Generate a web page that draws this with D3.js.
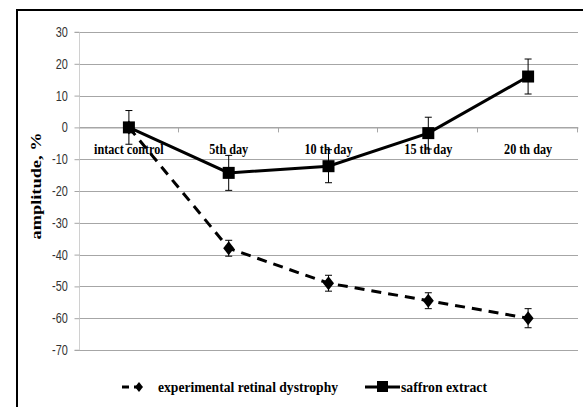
<!DOCTYPE html>
<html><head><meta charset="utf-8">
<script src="https://cdn.jsdelivr.net/npm/d3@7"></script>
<style>body{margin:0;background:#fff}svg{display:block}</style>
</head><body>
<svg id="c" width="583" height="407"></svg>
<script>
const categories = ["intact control","5th day","10 th day","15 th day","20 th day"];
const dystrophy = [0,-38,-49,-54.5,-60];
const dystrophyErr = [0,2.5,2.5,2.5,3];
const saffron = [0,-14.3,-12.2,-1.8,16];
const saffronErr = [5.3,5.5,5.2,5,5.5];
const yTicks = [30,20,10,0,-10,-20,-30,-40,-50,-60,-70];
const seriesNames = ["experimental retinal dystrophy","saffron extract"];

const svg = d3.select("#c");
const L=79,R=578,T=32,B=350;
svg.append("rect").attr("x",17).attr("y",10).attr("width",600).attr("height",500)
  .attr("fill","none").attr("stroke","#000").attr("stroke-width",2);

const x = d3.scaleBand().domain(categories).range([L,R]);
const y = d3.scaleLinear().domain([-70,30]).range([B,T]);
const cx = c => x(c)+x.bandwidth()/2;

// gridlines
svg.append("g").selectAll("line").data(yTicks).join("line")
  .attr("x1",L).attr("x2",R).attr("y1",d=>Math.round(y(d))+0.5).attr("y2",d=>Math.round(y(d))+0.5)
  .attr("stroke","#a6a6a6").attr("stroke-width",1);
// y axis
const ya = svg.append("g").attr("transform",`translate(${L+0.5},0)`)
  .call(d3.axisLeft(y).tickValues(yTicks).tickSize(5).tickPadding(6).tickFormat(d=>String(d)));
ya.select(".domain").attr("stroke","#d0d0d0").attr("d",`M-5,${y(30)}H0V${y(-70)}H-5`);
ya.selectAll(".tick line").attr("stroke","#a6a6a6");
ya.selectAll("text").attr("font-family","'Liberation Sans',sans-serif")
  .attr("font-size",14).attr("fill","#333").attr("x",-15).attr("transform","scale(0.78,1)");
// x axis at zero
const xa = svg.append("g").attr("transform",`translate(0,${Math.round(y(0))+0.5})`)
  .call(d3.axisBottom(x).tickSize(0).tickPadding(16));
xa.select(".domain").attr("stroke","#a6a6a6");
xa.selectAll(".tick text").attr("font-family","'Liberation Serif','Times New Roman',serif")
  .attr("font-weight","bold").attr("font-size",14.5).attr("fill","#000")
  .attr("transform","scale(0.84,1)");
// band boundary ticks
svg.append("g").selectAll("line").data(categories).join("line")
  .attr("x1",(d,i)=>Math.round(L+(i+1)*x.bandwidth())-0.5).attr("x2",(d,i)=>Math.round(L+(i+1)*x.bandwidth())-0.5)
  .attr("y1",y(0)).attr("y2",y(0)+5).attr("stroke","#a6a6a6");

// y title
svg.append("text").attr("transform",`translate(41,186) rotate(-90)`)
  .attr("text-anchor","middle").attr("font-family","'Liberation Serif',serif").attr("font-weight","bold")
  .attr("font-size",14).attr("textLength",107).attr("lengthAdjust","spacingAndGlyphs").text("amplitude,  %");

const line = d3.line().x((d,i)=>cx(categories[i])).y(d=>y(d));
// dystrophy
svg.append("path").datum(dystrophy).attr("d",line).attr("fill","none").attr("stroke","#000")
  .attr("stroke-width",3).attr("stroke-dasharray","10,7");
const eb = (vals,errs)=>{
  const g=svg.append("g");
  vals.forEach((v,i)=>{ if(!errs[i]) return; const X=cx(categories[i]);
    g.append("line").attr("x1",X).attr("x2",X).attr("y1",y(v+errs[i])).attr("y2",y(v-errs[i])).attr("stroke","#000").attr("stroke-width",1);
    [v+errs[i],v-errs[i]].forEach(e=>g.append("line").attr("x1",X-3.5).attr("x2",X+3.5).attr("y1",y(e)).attr("y2",y(e)).attr("stroke","#000").attr("stroke-width",1));
  });
};
eb(dystrophy,dystrophyErr);
svg.append("g").selectAll("path").data(dystrophy).join("path")
  .attr("d","M0,-7L5.5,0L0,7L-5.5,0Z").attr("fill","#000")
  .attr("transform",(d,i)=>`translate(${cx(categories[i])},${y(d)})`);
// saffron
svg.append("path").datum(saffron).attr("d",line).attr("fill","none").attr("stroke","#000").attr("stroke-width",3);
eb(saffron,saffronErr);
svg.append("g").selectAll("rect").data(saffron).join("rect")
  .attr("x",(d,i)=>cx(categories[i])-6).attr("y",d=>y(d)-6).attr("width",12).attr("height",12).attr("fill","#000");

// legend
const lg = svg.append("g").attr("font-family","'Liberation Serif',serif").attr("font-weight","bold").attr("font-size",15.5);
lg.append("line").attr("x1",122).attr("x2",146).attr("y1",387).attr("y2",387).attr("stroke","#000").attr("stroke-width",3).attr("stroke-dasharray","7,5");
lg.append("path").attr("d","M0,-5L4,0L0,5L-4,0Z").attr("transform","translate(139,387)");
lg.append("text").attr("x",158).attr("y",392).text(seriesNames[0])
  .attr("textLength",180).attr("lengthAdjust","spacingAndGlyphs");
lg.append("line").attr("x1",365).attr("x2",400).attr("y1",387).attr("y2",387).attr("stroke","#000").attr("stroke-width",3);
lg.append("rect").attr("x",377).attr("y",381).attr("width",11).attr("height",11);
lg.append("text").attr("x",401).attr("y",392).text(seriesNames[1])
  .attr("textLength",86).attr("lengthAdjust","spacingAndGlyphs");
</script>
</body></html>
